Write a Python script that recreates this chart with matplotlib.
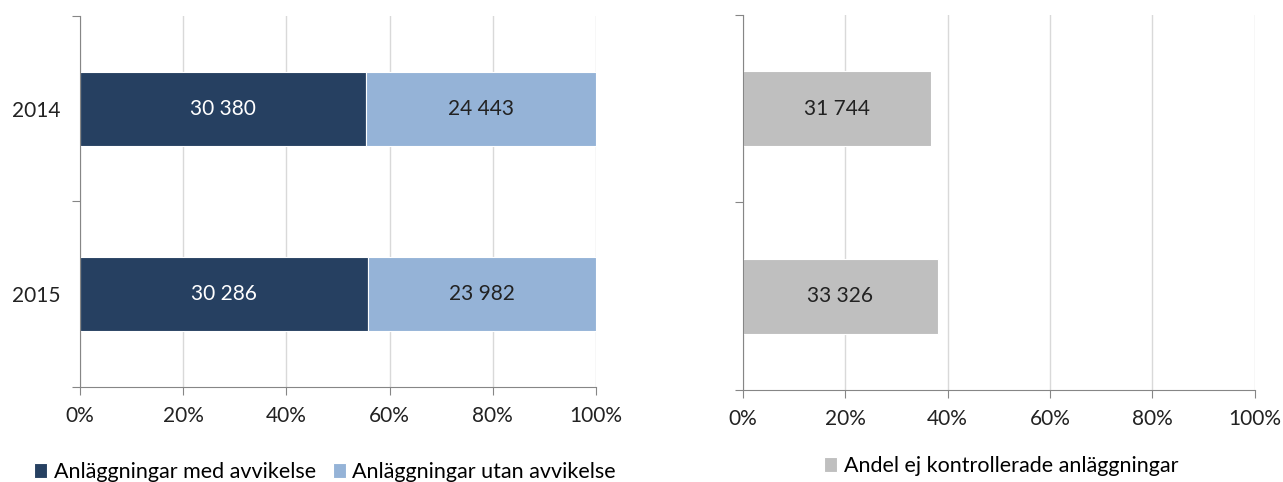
import numpy as np
import matplotlib
matplotlib.use("Agg")
import matplotlib.pyplot as plt
from matplotlib.ticker import PercentFormatter

plt.rcParams['font.family'] = ['Lato', 'DejaVu Sans']

years = ["2014", "2015"]
med_avvikelse = [30380, 30286]
utan_avvikelse = [24443, 23982]
ej_kontrollerade = [31744, 33326]

dark = "#264061"
light = "#95B3D7"
grey = "#BFBFBF"
axis_col = "#868686"
fs = 15


def fmt(v):
    return f"{v:,}".replace(",", " ")


def style_axes(ax):
    ax.set_xlim(0, 1)
    ax.set_ylim(1.5, -0.5)
    ax.set_xticks(np.arange(0, 1.01, 0.2))
    ax.xaxis.set_major_formatter(PercentFormatter(1.0, decimals=0))
    ax.grid(axis="x", color="#D9D9D9", linewidth=1)
    ax.set_axisbelow(True)
    for s in ["top", "right"]:
        ax.spines[s].set_visible(False)
    for s in ["left", "bottom"]:
        ax.spines[s].set_color(axis_col)
    ax.tick_params(axis="x", colors=axis_col, labelcolor="#222222",
                   labelsize=fs, length=6, pad=8)
    ax.set_yticks([-0.5, 0.5, 1.5], minor=False)
    ax.set_yticklabels([])
    ax.tick_params(axis="y", colors=axis_col, length=6)
    ax.set_yticks([0, 1], minor=True)
    ax.set_yticklabels(years, minor=True)
    ax.tick_params(axis="y", which="minor", length=0, pad=14,
                   labelsize=fs, labelcolor="#222222")


fig = plt.figure(figsize=(12.83, 4.82), dpi=100)
ax1 = fig.add_axes([0.0624, 0.197, 0.402, 0.770])
ax2 = fig.add_axes([0.579, 0.191, 0.399, 0.778])

y = np.arange(len(years))
med = np.array(med_avvikelse)
utan = np.array(utan_avvikelse)
tot = med + utan
share_med = med / tot
share_utan = utan / tot

b1 = ax1.barh(y, share_med, height=0.4, color=dark, edgecolor="white",
              linewidth=0.8, label="Anläggningar med avvikelse")
b2 = ax1.barh(y, share_utan, left=share_med, height=0.4, color=light,
              edgecolor="white", linewidth=0.8, label="Anläggningar utan avvikelse")
ax1.bar_label(b1, labels=[fmt(v) for v in med], label_type="center",
              color="white", fontsize=fs)
ax1.bar_label(b2, labels=[fmt(v) for v in utan], label_type="center",
              color="#222222", fontsize=fs)
style_axes(ax1)
ax1.legend(loc="upper center", bbox_to_anchor=(0.475, -0.15), ncol=2,
           frameon=False, fontsize=15.5, handlelength=0.6, handleheight=0.7,
           handletextpad=0.3, columnspacing=0.8)

ej = np.array(ej_kontrollerade)
share_ej = ej / (tot + ej)
b3 = ax2.barh(y, share_ej, height=0.4, color=grey, edgecolor="white",
              linewidth=0.8, label="Andel ej kontrollerade anläggningar")
ax2.bar_label(b3, labels=[fmt(v) for v in ej], label_type="center",
              color="#222222", fontsize=fs)
style_axes(ax2)
ax2.set_yticklabels([], minor=True)
ax2.legend(loc="upper center", bbox_to_anchor=(0.505, -0.125), ncol=1,
           frameon=False, fontsize=15.5, handlelength=0.6, handleheight=0.7,
           handletextpad=0.3)

fig.savefig("out.png", dpi=100)
